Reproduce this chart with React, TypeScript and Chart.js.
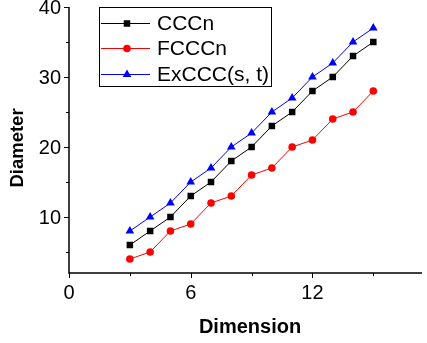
import React, { useEffect, useRef } from "react";
import Chart from "chart.js/auto";

const dimensions = [3, 4, 5, 6, 7, 8, 9, 10, 11, 12, 13, 14, 15];
const cccn = [6, 8, 10, 13, 15, 18, 20, 23, 25, 28, 30, 33, 35];
const fcccn = [4, 5, 8, 9, 12, 13, 16, 17, 20, 21, 24, 25, 28];
const excccst = [8, 10, 12, 15, 17, 20, 22, 25, 27, 30, 32, 35, 37];
const seriesNames = ["CCCn", "FCCCn", "ExCCC(s, t)"];
const seriesColors = ["#000000", "#ff0000", "#0000ff"];
const seriesStyles = ["rect", "circle", "triangle"];
const xMajorTicks = [0, 6, 12];
const xMinorTicks = [3, 9, 15];
const yMajorTicks = [10, 20, 30, 40];
const yMinorTicks = [5, 15, 25, 35];

const FONT = "'Liberation Sans', Arial, sans-serif";

function marker(ctx: CanvasRenderingContext2D, style: string, r: number, x: number, y: number) {
  ctx.beginPath();
  if (style === "rect") {
    const s = r / Math.SQRT2;
    ctx.rect(x - s, y - s, 2 * s, 2 * s);
  } else if (style === "circle") {
    ctx.arc(x, y, r, 0, Math.PI * 2);
  } else {
    ctx.moveTo(x, y - r);
    ctx.lineTo(x + r * Math.cos(Math.PI / 6), y + r / 2);
    ctx.lineTo(x - r * Math.cos(Math.PI / 6), y + r / 2);
    ctx.closePath();
  }
  ctx.fill();
}

export default function App() {
  const ref = useRef<HTMLCanvasElement | null>(null);
  useEffect(() => {
    document.body.style.margin = "0";
    const canvas = ref.current!;
    const all = [cccn, fcccn, excccst];
    const radii = [4.6, 3.8, 5];
    const overlay = {
      id: "overlay",
      afterDraw(chart: any) {
        const ctx = chart.ctx as CanvasRenderingContext2D;
        const xs = chart.scales.x;
        const ys = chart.scales.y;
        const ca = chart.chartArea;
        ctx.save();
        ctx.strokeStyle = "#000";
        ctx.fillStyle = "#000";
        ctx.lineWidth = 1.5;
        ctx.beginPath();
        ctx.moveTo(ca.left, ca.top);
        ctx.lineTo(ca.left, ca.bottom);
        ctx.lineTo(ca.right, ca.bottom);
        ctx.stroke();
        ctx.lineWidth = 1;
        ctx.beginPath();
        for (const v of xMajorTicks) {
          const px = Math.round(xs.getPixelForValue(v)) + 0.5;
          ctx.moveTo(px, ca.bottom);
          ctx.lineTo(px, ca.bottom + 5);
        }
        for (const v of xMinorTicks) {
          const px = Math.round(xs.getPixelForValue(v)) + 0.5;
          ctx.moveTo(px, ca.bottom);
          ctx.lineTo(px, ca.bottom + 3);
        }
        for (const v of yMajorTicks) {
          const py = Math.round(ys.getPixelForValue(v)) + 0.5;
          ctx.moveTo(ca.left, py);
          ctx.lineTo(ca.left - 5, py);
        }
        for (const v of yMinorTicks) {
          const py = Math.round(ys.getPixelForValue(v)) + 0.5;
          ctx.moveTo(ca.left, py);
          ctx.lineTo(ca.left - 3, py);
        }
        ctx.stroke();
        ctx.font = `20px ${FONT}`;
        ctx.textAlign = "center";
        ctx.textBaseline = "middle";
        for (const v of xMajorTicks) {
          ctx.fillText(String(v), xs.getPixelForValue(v), ca.bottom + 20);
        }
        ctx.textAlign = "right";
        for (const v of yMajorTicks) {
          ctx.fillText(String(v), ca.left - 8, ys.getPixelForValue(v) + 1);
        }
        ctx.font = `bold 20px ${FONT}`;
        ctx.textAlign = "center";
        ctx.fillText("Dimension", 250, 327);
        ctx.font = `bold 18.5px ${FONT}`;
        ctx.save();
        ctx.translate(18, 148);
        ctx.rotate(-Math.PI / 2);
        ctx.fillText("Diameter", 0, 0);
        ctx.restore();
        const bx = 99.5, by = 7.5, bw = 172, bh = 79;
        ctx.fillStyle = "#fff";
        ctx.fillRect(bx, by, bw, bh);
        ctx.strokeStyle = "#000";
        ctx.lineWidth = 1;
        ctx.strokeRect(bx, by, bw, bh);
        const rows = [23, 48, 74];
        ctx.font = `21px ${FONT}`;
        ctx.textAlign = "left";
        ctx.textBaseline = "middle";
        seriesNames.forEach((name, i) => {
          const y = rows[i];
          ctx.strokeStyle = seriesColors[i];
          ctx.lineWidth = 1;
          ctx.beginPath();
          ctx.moveTo(101, y + 0.5);
          ctx.lineTo(150, y + 0.5);
          ctx.stroke();
          ctx.fillStyle = seriesColors[i];
          marker(ctx, seriesStyles[i], radii[i], 127, y + 0.5);
          ctx.fillStyle = "#000";
          ctx.fillText(name, 157, y + 1);
        });
        ctx.restore();
      },
    };
    const chart = new Chart(canvas, {
      type: "line",
      data: {
        datasets: all.map((vals, i) => ({
          label: seriesNames[i],
          data: dimensions.map((d, j) => ({ x: d, y: vals[j] })),
          borderColor: seriesColors[i],
          backgroundColor: seriesColors[i],
          borderWidth: 1,
          pointStyle: seriesStyles[i] as any,
          pointRadius: radii[i],
          pointBorderWidth: 0,
          tension: 0,
        })),
      },
      options: {
        animation: false,
        responsive: false,
        layout: { padding: { left: 69, right: 0, top: 7, bottom: 70 } },
        plugins: { legend: { display: false }, tooltip: { enabled: false } },
        scales: {
          x: { type: "linear", min: 0, max: 17.4, display: false },
          y: { type: "linear", min: 2, max: 40, display: false },
        },
      },
      plugins: [overlay],
    });
    return () => chart.destroy();
  }, []);
  return <canvas ref={ref} width={427} height={343} style={{ display: "block" }} />;
}
